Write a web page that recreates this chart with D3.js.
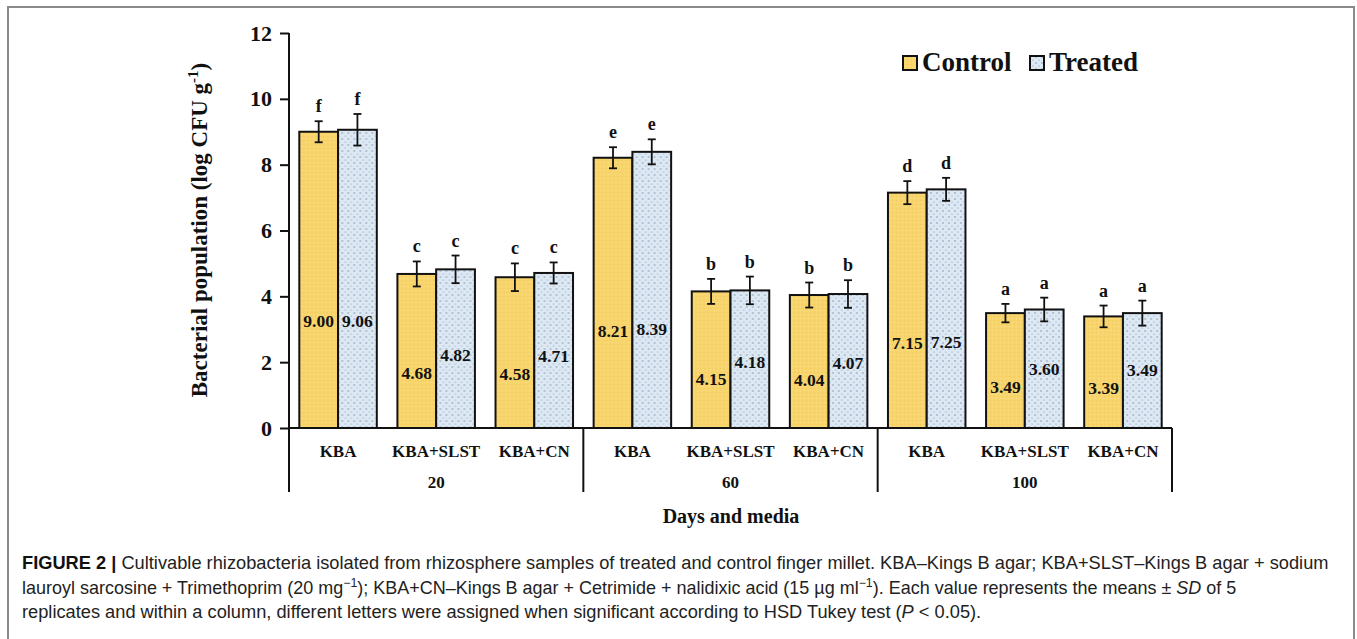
<!DOCTYPE html>
<html lang="en">
<head>
    <meta charset="UTF-8">
    <title>Cultivable rhizobacteria - Figure 2</title>
    <script src="https://d3js.org/d3.v7.min.js"></script>
    <style>
        body { margin: 0; background: #fff; }
        .serif { font-family: "Liberation Serif", "Times New Roman", serif; font-weight: bold; fill: #111; }
        .caption { font-family: "Liberation Sans Narrow", "Arial Narrow", "Liberation Sans", Arial, sans-serif; fill: #222; }
    </style>
</head>
<body>
    <script>
        // data
        const days = ["20", "60", "100"];
        const media = ["KBA", "KBA+SLST", "KBA+CN"];
        const series = ["Control", "Treated"];
        const controlMean = [9.00, 4.68, 4.58, 8.21, 4.15, 4.04, 7.15, 3.49, 3.39];
        const treatedMean = [9.06, 4.82, 4.71, 8.39, 4.18, 4.07, 7.25, 3.60, 3.49];
        const controlSD = [0.32, 0.38, 0.42, 0.32, 0.38, 0.38, 0.35, 0.28, 0.33];
        const treatedSD = [0.48, 0.42, 0.32, 0.38, 0.42, 0.42, 0.35, 0.36, 0.38];
        const controlLetter = ["f", "c", "c", "e", "b", "b", "d", "a", "a"];
        const treatedLetter = ["f", "c", "c", "e", "b", "b", "d", "a", "a"];
        const yTicks = [0, 2, 4, 6, 8, 10, 12];

        const width = 1357, height = 639;
        const svg = d3.select("body").append("svg")
            .attr("width", width)
            .attr("height", height);

        // fills
        const defs = svg.append("defs");
        const pc = defs.append("pattern").attr("id", "ctrl")
            .attr("patternUnits", "userSpaceOnUse").attr("width", 4).attr("height", 4);
        pc.append("rect").attr("width", 4).attr("height", 4).attr("fill", "#f8d56c");
        pc.append("rect").attr("x", 0).attr("y", 0).attr("width", 1).attr("height", 1).attr("fill", "#f2c95a");
        pc.append("rect").attr("x", 2).attr("y", 2).attr("width", 1).attr("height", 1).attr("fill", "#fbe08a");

        const pt = defs.append("pattern").attr("id", "treat")
            .attr("patternUnits", "userSpaceOnUse").attr("width", 6).attr("height", 6);
        pt.append("rect").attr("width", 6).attr("height", 6).attr("fill", "#dce8f4");
        pt.append("circle").attr("cx", 1).attr("cy", 1).attr("r", 0.7).attr("fill", "#6f7f95");
        pt.append("circle").attr("cx", 4).attr("cy", 4).attr("r", 0.6).attr("fill", "#8898ad");

        const fills = { Control: "url(#ctrl)", Treated: "url(#treat)" };

        // outer frame
        svg.append("rect")
            .attr("x", 8).attr("y", 7)
            .attr("width", 1346).attr("height", 660)
            .attr("fill", "none").attr("stroke", "#8a8a8a").attr("stroke-width", 2);

        const rows = [];
        days.forEach((d, gi) => media.forEach((m, mi) => {
            const i = gi * 3 + mi;
            rows.push({
                key: i, day: d, medium: m,
                vals: [
                    { s: "Control", v: controlMean[i], sd: controlSD[i], letter: controlLetter[i] },
                    { s: "Treated", v: treatedMean[i], sd: treatedSD[i], letter: treatedLetter[i] }
                ]
            });
        }));

        const x0 = d3.scaleBand()
            .domain(rows.map(r => r.key))
            .range([289, 1172])
            .paddingInner(0.21)
            .paddingOuter(0.105);
        const x1 = d3.scaleBand()
            .domain(series)
            .range([0, x0.bandwidth()]);
        const y = d3.scaleLinear().domain([0, 12]).range([428, 33]);

        // y axis
        const yAxis = svg.append("g")
            .attr("transform", "translate(289,0)")
            .call(d3.axisLeft(y).tickValues(yTicks).tickFormat(d3.format("d"))
                .tickSize(9).tickSizeOuter(0).tickPadding(8));
        yAxis.select(".domain").remove();
        yAxis.selectAll(".tick line").attr("stroke", "#111").attr("stroke-width", 2);
        yAxis.selectAll(".tick text")
            .attr("class", "serif")
            .attr("font-size", 22);

        // bars
        const grp = svg.append("g").selectAll("g")
            .data(rows).enter().append("g")
            .attr("transform", r => `translate(${x0(r.key)},0)`);

        grp.selectAll("rect")
            .data(r => r.vals).enter().append("rect")
            .attr("x", d => x1(d.s))
            .attr("y", d => y(d.v))
            .attr("width", x1.bandwidth())
            .attr("height", d => y(0) - y(d.v))
            .attr("fill", d => fills[d.s])
            .attr("stroke", "#111")
            .attr("stroke-width", 2);

        // error bars
        const err = grp.selectAll("g.err")
            .data(r => r.vals).enter().append("g")
            .attr("class", "err")
            .attr("stroke", "#111").attr("stroke-width", 1.8);
        err.append("line")
            .attr("x1", d => x1(d.s) + x1.bandwidth() / 2)
            .attr("x2", d => x1(d.s) + x1.bandwidth() / 2)
            .attr("y1", d => y(d.v + d.sd))
            .attr("y2", d => y(d.v - d.sd));
        [1, -1].forEach(k => {
            err.append("line")
                .attr("x1", d => x1(d.s) + x1.bandwidth() / 2 - 4)
                .attr("x2", d => x1(d.s) + x1.bandwidth() / 2 + 4)
                .attr("y1", d => y(d.v + k * d.sd))
                .attr("y2", d => y(d.v + k * d.sd));
        });

        // significance letters
        grp.selectAll("text.letter")
            .data(r => r.vals).enter().append("text")
            .attr("class", "serif letter")
            .attr("font-size", 18)
            .attr("text-anchor", "middle")
            .attr("x", d => x1(d.s) + x1.bandwidth() / 2)
            .attr("y", d => y(d.v + d.sd) - 9)
            .text(d => d.letter);

        // value labels inside bars
        grp.selectAll("text.val")
            .data(r => r.vals).enter().append("text")
            .attr("class", "serif val")
            .attr("font-size", 17.5)
            .attr("text-anchor", "middle")
            .attr("dy", "0.35em")
            .attr("x", d => x1(d.s) + x1.bandwidth() / 2)
            .attr("y", d => y(d.v * 0.36 + (d.s === "Treated" && d.v < 6 ? 0.5 : 0)))
            .text(d => d.v.toFixed(2));

        // x axis line and group separators
        const axisG = svg.append("g").attr("stroke", "#111").attr("stroke-width", 2);
        axisG.append("line")
            .attr("x1", 289).attr("x2", 1172)
            .attr("y1", y(0)).attr("y2", y(0));
        axisG.append("line")
            .attr("x1", 289).attr("x2", 289)
            .attr("y1", y(12)).attr("y2", 492);
        const step = x0.step();
        days.forEach((d, gi) => {
            const xr = x0.range()[0] + (gi + 1) * 3 * step;
            axisG.append("line")
                .attr("x1", xr).attr("x2", xr)
                .attr("y1", y(0)).attr("y2", 492);
        });

        // category and group labels
        svg.append("g").selectAll("text")
            .data(rows).enter().append("text")
            .attr("class", "serif")
            .attr("font-size", 17)
            .attr("text-anchor", "middle")
            .attr("x", r => x0(r.key) + x0.bandwidth() / 2)
            .attr("y", 457)
            .text(r => r.medium);

        svg.append("g").selectAll("text")
            .data(days).enter().append("text")
            .attr("class", "serif")
            .attr("font-size", 17)
            .attr("text-anchor", "middle")
            .attr("x", (d, gi) => x0.range()[0] + (gi + 0.5) * 3 * step)
            .attr("y", 488)
            .text(d => d);

        svg.append("text")
            .attr("class", "serif")
            .attr("font-size", 20)
            .attr("text-anchor", "middle")
            .attr("x", 731).attr("y", 523)
            .text("Days and media");

        // y axis title
        const yt = svg.append("text")
            .attr("class", "serif")
            .attr("font-size", 23)
            .attr("text-anchor", "middle")
            .attr("transform", "translate(207,230) rotate(-90)");
        yt.append("tspan").text("Bacterial population (log CFU g");
        yt.append("tspan").attr("font-size", 15).attr("dy", -9).text("-1");
        yt.append("tspan").attr("dy", 9).text(")");

        // legend
        const leg = svg.append("g").attr("transform", "translate(903,56)");
        const legX = [0, 127];
        series.forEach((s, i) => {
            leg.append("rect")
                .attr("x", legX[i]).attr("y", 0)
                .attr("width", 14).attr("height", 14)
                .attr("fill", fills[s])
                .attr("stroke", "#111").attr("stroke-width", 2);
            leg.append("text")
                .attr("class", "serif")
                .attr("font-size", 27)
                .attr("x", legX[i] + 19).attr("y", 15)
                .text(s);
        });

        // caption
        const cap = svg.append("g").attr("class", "caption").attr("font-size", 17.5);
        const capLines = [
            { y: 569, w: 1307, parts: [
                { t: "FIGURE 2 | ", b: true },
                { t: "Cultivable rhizobacteria isolated from rhizosphere samples of treated and control finger millet. KBA\u2013Kings B agar; KBA+SLST\u2013Kings B agar + sodium" }
            ] },
            { y: 594, w: 1215, parts: [
                { t: "lauroyl sarcosine + Trimethoprim (20 mg" },
                { t: "\u22121", sup: true },
                { t: "); KBA+CN\u2013Kings B agar + Cetrimide + nalidixic acid (15 \u00b5g ml", down: true },
                { t: "\u22121", sup: true },
                { t: "). Each value represents the means \u00b1 ", down: true },
                { t: "SD", i: true },
                { t: " of 5" }
            ] },
            { y: 618, w: 959, parts: [
                { t: "replicates and within a column, different letters were assigned when significant according to HSD Tukey test (" },
                { t: "P", i: true },
                { t: " < 0.05)." }
            ] }
        ];
        capLines.forEach(line => {
            const t = cap.append("text").attr("x", 22).attr("y", line.y);
            line.parts.forEach(p => {
                const sp = t.append("tspan").text(p.t);
                if (p.b) sp.attr("font-weight", "bold").attr("fill", "#111");
                if (p.i) sp.attr("font-style", "italic");
                if (p.sup) sp.attr("font-size", 12).attr("dy", -7);
                if (p.down) sp.attr("dy", 7);
            });
            const w = t.node().getComputedTextLength();
            const sx = line.w / w;
            t.attr("x", 0).attr("transform", `translate(22,0) scale(${sx},1)`);
        });
    </script>
</body>
</html>
